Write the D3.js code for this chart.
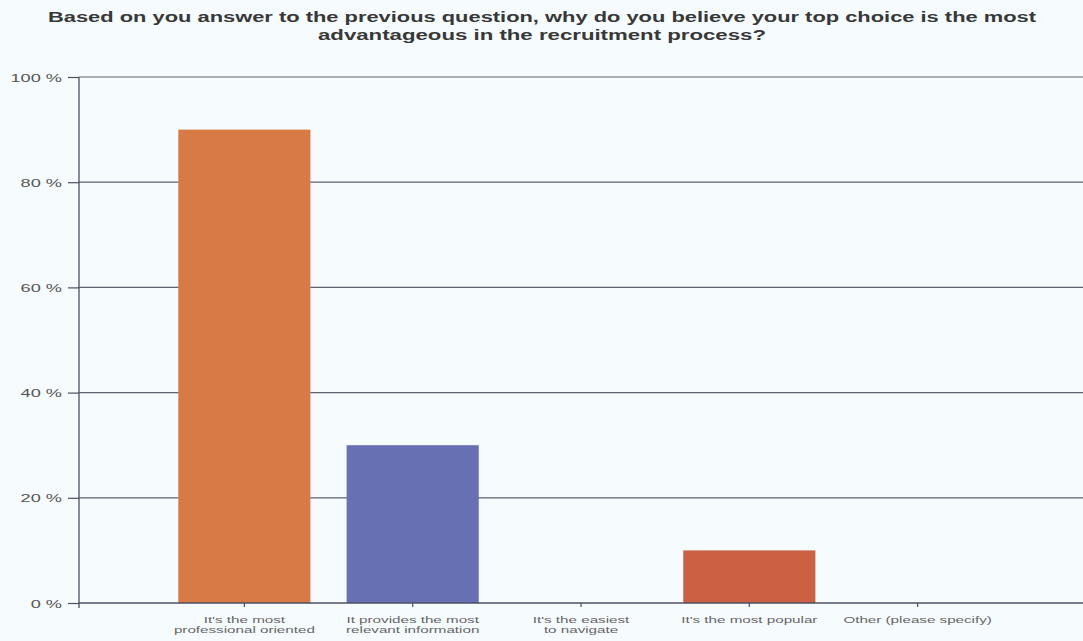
<!DOCTYPE html>
<html><head><meta charset="utf-8">
<script src="https://cdn.jsdelivr.net/npm/d3@7"></script>
<style>
html,body{margin:0;padding:0;background:#f6fbfd;}
svg{display:block;}
</style></head>
<body><svg id="chart" width="1083" height="641"></svg>
<script>
const titleLines = ["Based on you answer to the previous question, why do you believe your top choice is the most", "advantageous in the recruitment process?"];
const categories = ["c1","c2","c3","c4","c5"];
const categoryLabels = [["It's the most","professional oriented"],["It provides the most","relevant information"],["It's the easiest","to navigate"],["It's the most popular"],["Other (please specify)"]];
const values = [90, 30, 0, 10, 0];
const barColors = ["#d77a45", "#6670b2", "#d77a45", "#cb6142", "#6670b2"];
const yTicks = [0, 20, 40, 60, 80, 100];

(function(){
const svg = d3.select("#chart");
const mLeft = 79, mRight = 1083, mTop = 77, mBottom = 603;
const FONT = "Liberation Sans, Arial, sans-serif";

const x = d3.scaleBand().domain(categories).range([mLeft, mRight]).paddingInner(0.215).paddingOuter(0.59);
const y = d3.scaleLinear().domain([0, 100]).range([mBottom, mTop]);

// title (horizontally stretched like the reference)
const titleWidths = [988, 448];
const titleY = [22, 40];
svg.append("g").selectAll("text").data(titleLines).join("text")
  .attr("x", 542).attr("y", (d,i)=>titleY[i]).attr("text-anchor", "middle")
  .attr("textLength", (d,i)=>titleWidths[i]).attr("lengthAdjust", "spacingAndGlyphs")
  .style("font-family", FONT).style("font-weight", "bold").style("font-size", "14.5px").attr("fill", "#383838")
  .text(d=>d);

// gridlines
svg.append("g").selectAll("line").data(yTicks.filter(d=>d>0)).join("line")
  .attr("x1", mLeft).attr("x2", mRight).attr("y1", d=>y(d)).attr("y2", d=>y(d))
  .attr("stroke", "#5c6272").attr("stroke-width", 1.2);

// y axis
const yAxis = d3.axisLeft(y).tickValues(yTicks).tickSize(11).tickPadding(5).tickFormat(d => d + " %");
const gy = svg.append("g").attr("transform", `translate(${mLeft},0)`).call(yAxis);
gy.select(".domain").attr("stroke", "#4a5062").attr("stroke-width", 1.3).attr("d", `M0,${mTop}V${mBottom+5}`);
gy.selectAll(".tick line").attr("stroke", "#4a5062").attr("stroke-width", 1.2);
gy.selectAll(".tick text").attr("x", 0).attr("transform", "translate(-17,0.5) scale(1.58,1)")
  .style("font-family", FONT).style("font-size", "11.5px").attr("fill", "#555");

// bars
svg.append("g").selectAll("rect").data(values).join("rect")
  .attr("x", (d,i)=>x(categories[i])).attr("width", x.bandwidth())
  .attr("y", d=>y(d)).attr("height", d=>mBottom - y(d))
  .attr("fill", (d,i)=>barColors[i]);

// x axis
const xAxis = d3.axisBottom(x).tickSize(4).tickFormat("");
const gx = svg.append("g").attr("transform", `translate(0,${mBottom})`).call(xAxis);
gx.select(".domain").attr("stroke", "#4a5062").attr("stroke-width", 1.3).attr("d", `M${mLeft},0H${mRight}`);
gx.selectAll(".tick line").attr("stroke", "#4a5062").attr("stroke-width", 1.2);

svg.append("g").selectAll("text").data(categories).join("text")
  .attr("text-anchor", "middle")
  .attr("transform", d=>`translate(${x(d)+x.bandwidth()/2},${mBottom+20}) scale(1.6,1)`)
  .style("font-family", FONT).style("font-size", "9.5px").attr("fill", "#666")
  .each(function(d,i){
    d3.select(this).selectAll("tspan").data(categoryLabels[i]).join("tspan")
      .attr("x", 0).attr("dy", (t,j)=> j===0?0:10).text(t=>t);
  });
})();
</script></body></html>
